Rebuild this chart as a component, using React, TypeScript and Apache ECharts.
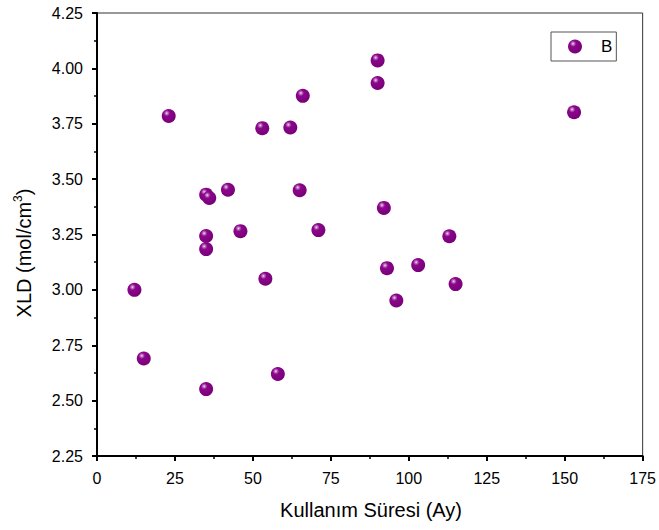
import React, { useEffect, useRef } from "react";
import * as echarts from "echarts";

// Usage period (months) and XLD values (mol/cm³)
const usageMonths = [12, 15, 23, 35, 36, 35, 35, 35, 42, 46, 53, 54, 58, 62, 65, 66, 71, 90, 90, 92, 93, 96, 103, 113, 115, 153];
const xldValues = [3.0, 2.69, 3.785, 3.43, 3.415, 3.243, 3.184, 2.552, 3.452, 3.265, 3.73, 3.05, 2.62, 3.733, 3.45, 3.876, 3.27, 4.036, 3.934, 3.37, 3.098, 2.952, 3.112, 3.242, 3.026, 3.802];

const seriesName = "B";
const xTitle = "Kullanım Süresi (Ay)";

const FONT = "'Liberation Sans', Arial, Helvetica, sans-serif";

export default function App() {
  const ref = useRef<HTMLDivElement>(null);

  useEffect(() => {
    if (!ref.current) return;
    const chart = echarts.init(ref.current, null, { renderer: "svg" });

    // glossy purple sphere: small highlight at upper-left, solid body
    const sphere = new echarts.graphic.RadialGradient(0.36, 0.3, 0.7, [
      { offset: 0, color: "#f4e6f4" },
      { offset: 0.12, color: "#c478c4" },
      { offset: 0.32, color: "#8a068a" },
      { offset: 1, color: "#7a007a" },
    ]);

    const points = usageMonths.map((m, i) => [m, xldValues[i]]);

    chart.setOption({
      animation: false,
      backgroundColor: "#ffffff",
      grid: {
        left: 97,
        right: 14,
        top: 13,
        bottom: 74,
        show: true,
        borderColor: "#333",
        borderWidth: 1,
        containLabel: false,
      },
      legend: {
        left: 551,
        top: 32,
        orient: "horizontal",
        icon: "circle",
        itemWidth: 14,
        itemHeight: 14,
        padding: [6, 4, 6, 17],
        borderColor: "#555",
        borderWidth: 1,
        textStyle: {
          fontFamily: FONT,
          fontSize: 17,
          color: "#000",
          padding: [0, 0, 0, 14],
        },
        data: [seriesName],
      },
      xAxis: {
        type: "value",
        min: 0,
        max: 175,
        interval: 25,
        splitLine: { show: false },
        axisLine: { show: true, onZero: false, lineStyle: { color: "#000", width: 2 } },
        axisTick: { show: true, inside: false, length: 5, lineStyle: { color: "#000", width: 2 } },
        minorTick: { show: true, splitNumber: 2, length: 3, lineStyle: { color: "#000", width: 1.5 } },
        axisLabel: { fontFamily: FONT, fontSize: 16, color: "#000", margin: 14 },
      },
      yAxis: {
        type: "value",
        min: 2.25,
        max: 4.25,
        interval: 0.25,
        splitLine: { show: false },
        axisLine: { show: true, onZero: false, lineStyle: { color: "#000", width: 2 } },
        axisTick: { show: true, inside: false, length: 5, lineStyle: { color: "#000", width: 2 } },
        minorTick: { show: true, splitNumber: 2, length: 3, lineStyle: { color: "#000", width: 1.5 } },
        axisLabel: {
          fontFamily: FONT,
          fontSize: 16,
          color: "#000",
          margin: 14,
          formatter: (v: number) => v.toFixed(2),
        },
      },
      graphic: [
        {
          type: "text",
          x: 371,
          y: 510,
          style: {
            text: xTitle,
            fontFamily: FONT,
            fontSize: 20,
            fill: "#000",
            align: "center",
            verticalAlign: "middle",
          },
        },
        {
          type: "text",
          x: 24,
          y: 253,
          rotation: Math.PI / 2,
          style: {
            text: "{a|XLD (mol/cm}{s|3}{a|)}",
            align: "center",
            verticalAlign: "middle",
            rich: {
              a: { fontFamily: FONT, fontSize: 20, fill: "#000", color: "#000" },
              s: { fontFamily: FONT, fontSize: 12, fill: "#000", color: "#000", padding: [0, 0, 12, 0] },
            },
          },
        },
      ],
      series: [
        {
          name: seriesName,
          type: "scatter",
          symbol: "circle",
          symbolSize: 14,
          itemStyle: { color: sphere, opacity: 1 },
          data: points,
        },
      ],
    });

    return () => chart.dispose();
  }, []);

  return (
    <div
      ref={ref}
      style={{ position: "fixed", left: 0, top: 0, width: 659, height: 530, background: "#fff" }}
    />
  );
}
